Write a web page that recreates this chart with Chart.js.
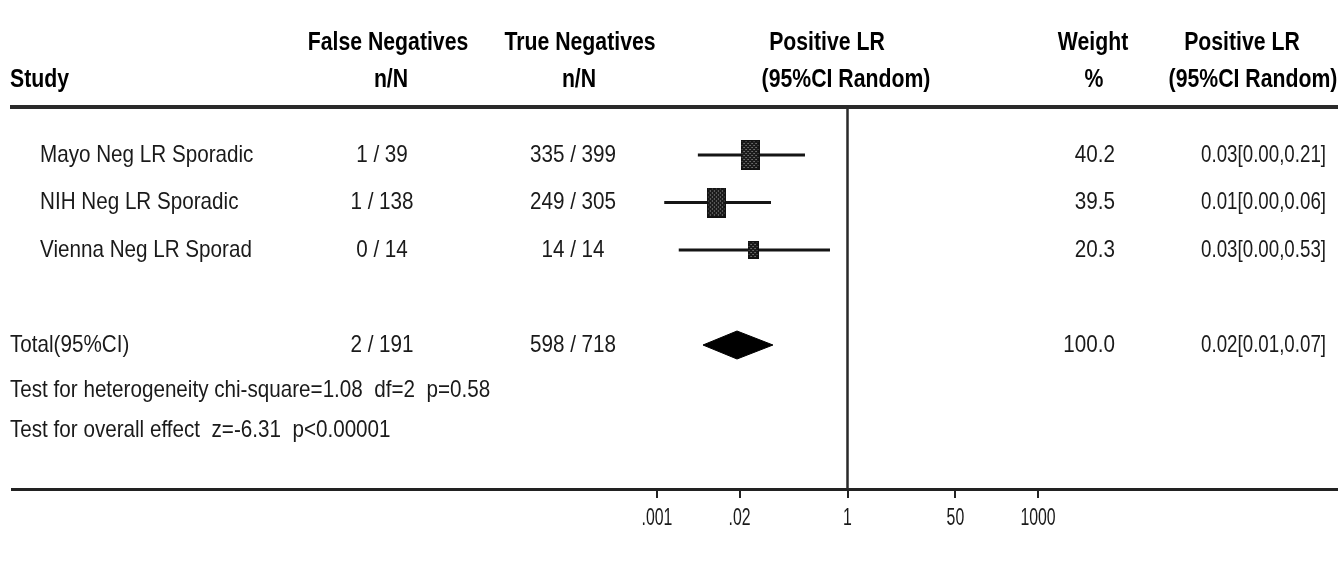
<!DOCTYPE html>
<html>
<head>
<meta charset="utf-8">
<script src="https://cdn.jsdelivr.net/npm/chart.js@4.4.1/dist/chart.umd.min.js"></script>
<style>
  html, body { margin: 0; padding: 0; background: #ffffff; }
  #wrap { width: 1338px; height: 577px; position: relative; }
</style>
</head>
<body>
<div id="wrap"><canvas id="forest"></canvas></div>
<script>
// ---- data ----
const studies = ['Mayo Neg LR Sporadic', 'NIH Neg LR Sporadic', 'Vienna Neg LR Sporad'];
const fnEvents = [1, 1, 0];
const fnTotals = [39, 138, 14];
const tnEvents = [335, 249, 14];
const tnTotals = [399, 305, 14];
const weights = [40.2, 39.5, 20.3];
const lrEst = [0.0292, 0.0086, 0.0325];
const lrLow = [0.0044, 0.0013, 0.0022];
const lrHigh = [0.214, 0.0624, 0.53];
const pooledEst = 0.0182;
const pooledLow = 0.0053;
const pooledHigh = 0.067;
const tickValues = [0.001, 0.02, 1, 50, 1000];
const tickLabels = ['.001', '.02', '1', '50', '1000'];
const heterogeneityText = 'Test for heterogeneity chi-square=1.08  df=2  p=0.58';
const overallText = 'Test for overall effect  z=-6.31  p<0.00001';

// ---- layout ----
const W = 1338, H = 577;
const PLOT_LEFT = 12;          // left end of the axis rule
const ONE_X = 847.5;           // pixel of LR = 1
const DECADE_PX = 63.5;        // pixels per decade on the log axis
const AXIS_Y = 489;            // axis rule
const ROW0_Y = 155, ROW_STEP = 47.5;
const yMin = -ROW0_Y / ROW_STEP;
const yMax = (AXIS_Y - ROW0_Y) / ROW_STEP;
const xMin = Math.pow(10, (PLOT_LEFT - ONE_X) / DECADE_PX);
const xMax = Math.pow(10, (W - ONE_X) / DECADE_PX);
const TOTAL_ROW = studies.length + 1;
const HEAD1 = -2.36, HEAD2 = -1.58, HEAD_RULE = -1.01;
const FOOT1 = 4.95, FOOT2 = 5.79;
const FONT = '"Liberation Sans", Arial, sans-serif';

// ---- derived values ----
const sum = a => a.reduce((s, v) => s + v, 0);
const frac = (n, N) => `${n} / ${N}`;
const lrText = (e, l, h) => `${e.toFixed(2)}[${l.toFixed(2)},${h.toFixed(2)}]`;

// speckled fill for the study squares
function speckle() {
  const c = document.createElement('canvas');
  c.width = 4; c.height = 4;
  const g = c.getContext('2d');
  g.fillStyle = '#1b1b1b'; g.fillRect(0, 0, 4, 4);
  g.fillStyle = '#a8a8a8';
  g.fillRect(1, 1, 1, 1); g.fillRect(3, 3, 1, 1);
  return c;
}
const maxW = Math.max(...weights);
const markers = weights.map(w => {
  const f = Math.pow(w / maxW, 0.75);
  const mw = Math.round(19 * f), mh = Math.round(30 * f);
  const c = document.createElement('canvas');
  c.width = mw; c.height = mh;
  const g = c.getContext('2d');
  g.fillStyle = g.createPattern(speckle(), 'repeat');
  g.fillRect(0, 0, mw, mh);
  g.strokeStyle = '#111'; g.lineWidth = 1.5;
  g.strokeRect(0.75, 0.75, mw - 1.5, mh - 1.5);
  return c;
});

// ---- datasets ----
const ciSets = studies.map((s, i) => ({
  type: 'scatter', showLine: true, order: 2,
  data: [{ x: lrLow[i], y: i }, { x: lrHigh[i], y: i }],
  borderColor: '#151515', borderWidth: 3, pointRadius: 0
}));
const markerSet = {
  type: 'scatter', order: 0,
  data: lrEst.map((v, i) => ({ x: v, y: i })),
  pointStyle: markers, pointRadius: 10, borderWidth: 0
};
const dH = 14 / ROW_STEP;
const diamondSet = {
  type: 'scatter', showLine: true, order: 1, fill: 'shape',
  data: [
    { x: pooledLow, y: TOTAL_ROW }, { x: pooledEst, y: TOTAL_ROW - dH },
    { x: pooledHigh, y: TOTAL_ROW }, { x: pooledEst, y: TOTAL_ROW + dH },
    { x: pooledLow, y: TOTAL_ROW }
  ],
  borderColor: '#000', backgroundColor: '#000', borderWidth: 1, pointRadius: 0
};
const refLine = {
  type: 'scatter', showLine: true, order: 3,
  data: [{ x: 1, y: HEAD_RULE }, { x: 1, y: yMax }],
  borderColor: '#2a2a2a', borderWidth: 2.5, pointRadius: 0
};

function txt(ctx, s, x, y, o = {}) {
  const size = o.size || 24, sx = o.sx || 0.86;
  ctx.save();
  ctx.translate(x, y);
  ctx.scale(sx, 1);
  ctx.font = `${o.bold ? 'bold ' : ''}${size}px ${FONT}`;
  ctx.fillStyle = o.color || '#1a1a1a';
  ctx.textAlign = o.align || 'left';
  ctx.textBaseline = 'middle';
  ctx.fillText(s, 0, 0);
  ctx.restore();
}

const tablePlugin = {
  id: 'forestTable',
  afterDraw(chart) {
    const ctx = chart.ctx, ys = chart.scales.y, xs = chart.scales.x;
    const Y = v => ys.getPixelForValue(v);
    const hb = { bold: true, size: 25, sx: 0.85, color: '#000' };

    // header rule
    ctx.save();
    ctx.strokeStyle = '#2a2a2a'; ctx.lineWidth = 4;
    ctx.beginPath();
    ctx.moveTo(chart.chartArea.left - 2, Y(HEAD_RULE));
    ctx.lineTo(chart.chartArea.right, Y(HEAD_RULE));
    ctx.stroke();
    ctx.restore();

    // header
    txt(ctx, 'Study', 10, Y(HEAD2), { ...hb });
    txt(ctx, 'False Negatives', 388, Y(HEAD1), { ...hb, align: 'center' });
    txt(ctx, 'n/N', 391, Y(HEAD2), { ...hb, align: 'center' });
    txt(ctx, 'True Negatives', 580, Y(HEAD1), { ...hb, align: 'center' });
    txt(ctx, 'n/N', 579, Y(HEAD2), { ...hb, align: 'center' });
    txt(ctx, 'Positive LR', 827, Y(HEAD1), { ...hb, align: 'center' });
    txt(ctx, '(95%CI Random)', 846, Y(HEAD2), { ...hb, align: 'center' });
    txt(ctx, 'Weight', 1093, Y(HEAD1), { ...hb, align: 'center' });
    txt(ctx, '%', 1094, Y(HEAD2), { ...hb, align: 'center' });
    txt(ctx, 'Positive LR', 1242, Y(HEAD1), { ...hb, align: 'center' });
    txt(ctx, '(95%CI Random)', 1253, Y(HEAD2), { ...hb, align: 'center' });

    // study rows
    studies.forEach((s, i) => {
      const y = Y(i);
      txt(ctx, s, 40, y);
      txt(ctx, frac(fnEvents[i], fnTotals[i]), 382, y, { align: 'center' });
      txt(ctx, frac(tnEvents[i], tnTotals[i]), 573, y, { align: 'center' });
      txt(ctx, weights[i].toFixed(1), 1115, y, { align: 'right' });
      txt(ctx, lrText(lrEst[i], lrLow[i], lrHigh[i]), 1326, y, { align: 'right', sx: 0.78 });
    });

    // pooled row
    const yt = Y(TOTAL_ROW);
    txt(ctx, 'Total(95%CI)', 10, yt);
    txt(ctx, frac(sum(fnEvents), sum(fnTotals)), 382, yt, { align: 'center' });
    txt(ctx, frac(sum(tnEvents), sum(tnTotals)), 573, yt, { align: 'center' });
    txt(ctx, sum(weights).toFixed(1), 1115, yt, { align: 'right' });
    txt(ctx, lrText(pooledEst, pooledLow, pooledHigh), 1326, yt, { align: 'right', sx: 0.78 });

    // tests
    txt(ctx, heterogeneityText, 10, Y(FOOT1));
    txt(ctx, overallText, 10, Y(FOOT2));

    // axis tick labels
    tickValues.forEach((v, i) => {
      txt(ctx, tickLabels[i], xs.getPixelForValue(v), chart.chartArea.bottom + 29,
        { size: 24, sx: 0.66, align: 'center' });
    });
  }
};

new Chart(document.getElementById('forest'), {
  data: { datasets: [...ciSets, markerSet, diamondSet, refLine] },
  options: {
    responsive: true, maintainAspectRatio: false, animation: false, events: [],
    layout: { autoPadding: false, padding: { left: PLOT_LEFT, right: 0, top: 0, bottom: 0 } },
    plugins: { legend: { display: false }, tooltip: { enabled: false } },
    scales: {
      x: {
        type: 'logarithmic', position: 'bottom', bounds: 'data',
        min: xMin, max: xMax,
        afterBuildTicks(scale) { scale.ticks = tickValues.map(v => ({ value: v })); },
        afterFit(scale) { scale.height = H - AXIS_Y; },
        ticks: { display: false },
        grid: { drawOnChartArea: false, drawTicks: true, tickLength: 9, color: '#222', lineWidth: 2 },
        border: { display: true, color: '#222', width: 3 }
      },
      y: { type: 'linear', reverse: true, min: yMin, max: yMax, display: false }
    }
  },
  plugins: [tablePlugin]
});
</script>
</body>
</html>
